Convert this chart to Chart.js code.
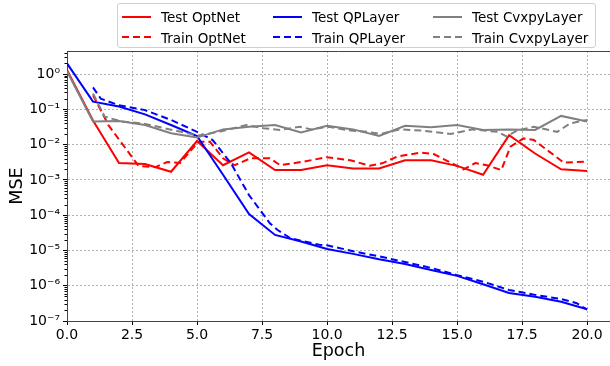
<!DOCTYPE html>
<html>
<head>
<meta charset="utf-8">
<script src="https://cdn.jsdelivr.net/npm/chart.js@4"></script>
<style>
  body { margin: 0; background: #fff; }
  #wrap { position: relative; width: 610px; height: 366px; }
  #legend {
    position: absolute; left: 117px; top: 3px; width: 477px; height: 43px;
    border: 1px solid #d0d0d0; border-radius: 3px; background: rgba(255,255,255,0.85);
    font-family: "DejaVu Sans", sans-serif; font-size: 13.5px; color: #000;
  }
  .item { position: absolute; height: 16px; line-height: 16px; white-space: nowrap; }
  .sample { position: absolute; top: 7px; width: 29px; height: 0; }
  .label { position: absolute; left: 39px; top: 0; }
</style>
</head>
<body>
<div id="wrap">
  <canvas id="chart" width="610" height="366"></canvas>
  <div id="legend"></div>
</div>
<script>
// test loss, one value per epoch
const epochs = [0, 1, 2, 3, 4, 5, 6, 7, 8, 9, 10, 11, 12, 13, 14, 15, 16, 17, 18, 19, 20];
const testOptNet = [1.3, 0.048, 0.0030, 0.0028, 0.0017, 0.0126, 0.0026, 0.0060, 0.0019, 0.0019, 0.0026,
  0.0021, 0.0021, 0.0036, 0.0036, 0.0025, 0.0014, 0.0186, 0.0056, 0.0020, 0.0018];
const testQPLayer = [2.0, 0.165, 0.12, 0.072, 0.036, 0.0175, 0.0014, 1.07e-4, 2.75e-5, 1.8e-5, 1.1e-5,
  8e-6, 5.6e-6, 4.1e-6, 2.8e-6, 1.9e-6, 1.1e-6, 6.2e-7, 4.9e-7, 3.5e-7, 2.15e-7];
const testCvxpy = [1.2, 0.045, 0.047, 0.036, 0.021, 0.0158, 0.027, 0.032, 0.036, 0.022, 0.034,
  0.027, 0.0175, 0.034, 0.031, 0.036, 0.026, 0.027, 0.026, 0.065, 0.045];

// train loss, logged at its own positions
const trainOptNetX = [1.0, 1.6, 2.75, 3.4, 3.85, 4.35, 5.05, 5.5, 6.0, 6.45, 7.05, 7.8, 8.2, 9.1, 10.0,
  10.9, 11.65, 12.15, 12.7, 13.6, 14.1, 15.25, 15.7, 16.15, 16.7, 17.05, 17.55, 17.95, 19.1, 20.0];
const trainOptNet = [0.25, 0.035, 0.0025, 0.0023, 0.0032, 0.0030, 0.012, 0.012, 0.0041, 0.0026, 0.0041,
  0.0041, 0.0026, 0.0033, 0.0044, 0.0036, 0.0025, 0.0030, 0.0046, 0.0059, 0.0054, 0.0020, 0.0030, 0.0026,
  0.0019, 0.0087, 0.015, 0.0135, 0.0031, 0.0033];
const trainQPLayerX = [1.0, 1.3, 2, 3, 4, 5, 5.6, 6.3, 7, 7.8, 8.1, 8.6, 9.7, 10, 11, 12, 13, 14, 15, 16,
  17, 18, 19, 19.6, 20];
const trainQPLayer = [0.42, 0.20, 0.13, 0.095, 0.050, 0.023, 0.0135, 0.0030, 3.7e-4, 5.9e-5, 3.8e-5, 2.2e-5,
  1.45e-5, 1.4e-5, 9.5e-6, 6.8e-6, 4.7e-6, 3.2e-6, 2.0e-6, 1.3e-6, 7.6e-7, 5.5e-7, 4.2e-7, 3.2e-7, 2.1e-7];
const trainCvxpyX = [1.0, 1.45, 2.1, 2.9, 4.05, 5.05, 5.95, 6.9, 7.55, 8.2, 8.95, 9.4, 10.05, 10.9, 11.55,
  12.05, 12.8, 13.6, 14.1, 14.75, 15.6, 16.55, 16.9, 17.3, 17.95, 18.85, 19.35, 20];
const trainCvxpy = [0.28, 0.062, 0.045, 0.040, 0.026, 0.018, 0.024, 0.036, 0.029, 0.026, 0.032, 0.027,
  0.032, 0.025, 0.023, 0.020, 0.027, 0.025, 0.023, 0.020, 0.027, 0.023, 0.017, 0.025, 0.032, 0.023, 0.040, 0.050];

const xTicks = [0, 2.5, 5, 7.5, 10, 12.5, 15, 17.5, 20];
const yTicks = [1e-7, 1e-6, 1e-5, 1e-4, 1e-3, 1e-2, 1e-1, 1];

const FONT = "DejaVu Sans";
const DASH = [7, 4];
const SUP = { "-": "⁻", "0": "⁰", "1": "¹", "2": "²", "3": "³", "4": "⁴", "5": "⁵", "6": "⁶", "7": "⁷", "8": "⁸", "9": "⁹" };

const pts = (xs, ys) => xs.map((x, i) => ({ x: x, y: ys[i] }));

const makeSet = (label, xs, ys, color, dashed, order) => ({
  label: label,
  data: pts(xs, ys),
  borderColor: color,
  backgroundColor: color,
  borderWidth: 2,
  borderDash: dashed ? DASH : [],
  pointRadius: 0,
  tension: 0,
  fill: false,
  order: order,
});

// spines on top + minor log ticks, like matplotlib
const frame = {
  id: "frame",
  afterDraw(chart) {
    const { ctx, chartArea } = chart;
    const y = chart.scales.y;
    ctx.save();
    ctx.strokeStyle = "#444";
    ctx.lineWidth = 1;
    ctx.beginPath();
    ctx.moveTo(chartArea.left, chartArea.top + 0.5);
    ctx.lineTo(chartArea.right, chartArea.top + 0.5);
    ctx.stroke();
    ctx.strokeStyle = "#000";
    ctx.beginPath();
    for (let d = 1e-7; d < 5; d *= 10) {
      for (let k = 2; k <= 9; k++) {
        const v = k * d;
        if (v > y.max) break;
        const py = Math.round(y.getPixelForValue(v)) + 0.5;
        ctx.moveTo(chartArea.left - 2.5, py);
        ctx.lineTo(chartArea.left, py);
      }
    }
    ctx.stroke();
    ctx.restore();
  },
};

const chart = new Chart(document.getElementById("chart").getContext("2d"), {
  type: "line",
  data: {
    datasets: [
      makeSet("Test OptNet", epochs, testOptNet, "#ff0000", false, 6),
      makeSet("Train OptNet", trainOptNetX, trainOptNet, "#ff0000", true, 5),
      makeSet("Test QPLayer", epochs, testQPLayer, "#0000ff", false, 4),
      makeSet("Train QPLayer", trainQPLayerX, trainQPLayer, "#0000ff", true, 3),
      makeSet("Test CvxpyLayer", epochs, testCvxpy, "#808080", false, 2),
      makeSet("Train CvxpyLayer", trainCvxpyX, trainCvxpy, "#808080", true, 1),
    ],
  },
  options: {
    responsive: false,
    animation: false,
    layout: { padding: { top: 51, right: 0, bottom: 0, left: 0 } },
    plugins: { legend: { display: false }, tooltip: { enabled: false } },
    scales: {
      x: {
        type: "linear",
        min: 0,
        max: 20.88,
        afterBuildTicks: (s) => { s.ticks = xTicks.map((v) => ({ value: v })); },
        afterFit: (s) => { s.height = 45; },
        ticks: {
          callback: (v) => v.toFixed(1),
          font: { family: FONT, size: 14 },
          color: "#000",
          maxRotation: 0,
          autoSkip: false,
          padding: 2,
        },
        grid: { color: "#b0b0b0", lineWidth: 1, tickLength: 4, tickColor: "#000", tickWidth: 1 },
        border: { display: true, color: "#444", width: 1, dash: [2, 2] },
        title: { display: true, text: "Epoch", color: "#000", font: { family: FONT, size: 17.5 }, padding: { top: -2, bottom: 4 } },
      },
      y: {
        type: "logarithmic",
        min: 1e-7,
        max: 4.5,
        afterBuildTicks: (s) => { s.ticks = yTicks.map((v) => ({ value: v })); },
        afterFit: (s) => { s.width = 67; },
        ticks: {
          callback: (v) => "10" + String(Math.round(Math.log10(v))).split("").map((c) => SUP[c]).join(""),
          font: { family: FONT, size: 14 },
          color: "#000",
          autoSkip: false,
          padding: 3,
        },
        grid: { color: "#b0b0b0", lineWidth: 1, tickLength: 4, tickColor: "#000", tickWidth: 1 },
        border: { display: true, color: "#444", width: 1, dash: [2, 2] },
        title: { display: true, text: "MSE", color: "#000", font: { family: FONT, size: 17.5 }, padding: { top: 7, bottom: 4 } },
      },
    },
  },
  plugins: [frame],
});

// legend laid out like matplotlib ncol=3 (columns per model, rows test/train)
const legendCols = [4, 155, 315];
const legendRows = [5, 26];
const legendEl = document.getElementById("legend");
chart.data.datasets.forEach((ds, i) => {
  const item = document.createElement("div");
  item.className = "item";
  item.style.left = legendCols[Math.floor(i / 2)] + "px";
  item.style.top = legendRows[i % 2] + "px";
  const sample = document.createElement("div");
  sample.className = "sample";
  if (ds.borderDash.length) {
    sample.style.height = "2px";
    sample.style.top = "6px";
    sample.style.background = `repeating-linear-gradient(90deg, ${ds.borderColor} 0 7px, transparent 7px 11px)`;
  } else {
    sample.style.borderTop = `2px solid ${ds.borderColor}`;
  }
  const label = document.createElement("span");
  label.className = "label";
  label.textContent = ds.label;
  item.appendChild(sample);
  item.appendChild(label);
  legendEl.appendChild(item);
});
</script>
</body>
</html>
